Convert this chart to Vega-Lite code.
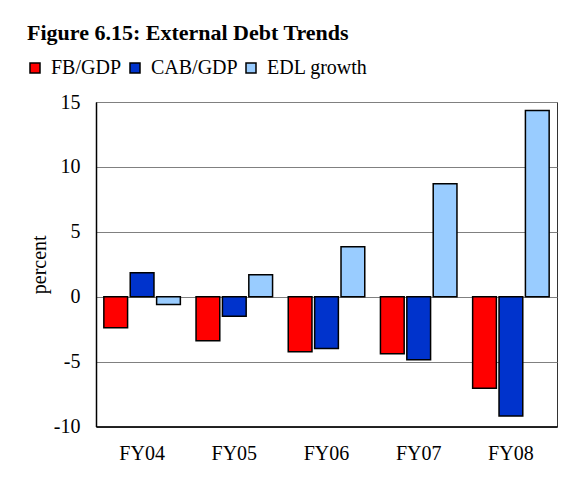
{
  "$schema": "https://vega.github.io/schema/vega-lite/v6.json",
  "autosize": "none",
  "width": 461,
  "height": 324.5,
  "padding": {"left": 96, "top": 102, "right": 22, "bottom": 50.5},
  "background": "white",
  "title": {
    "text": "Figure 6.15: External Debt Trends",
    "anchor": "start",
    "frame": "group",
    "dx": -69,
    "offset": 13,
    "font": "Liberation Serif",
    "fontSize": 22,
    "fontWeight": "bold",
    "color": "black"
  },
  "data": {
    "values": [
      {"year": "FY04", "series": "FB/GDP", "value": -2.4},
      {"year": "FY04", "series": "CAB/GDP", "value": 1.85},
      {"year": "FY04", "series": "EDL growth", "value": -0.6},
      {"year": "FY05", "series": "FB/GDP", "value": -3.4},
      {"year": "FY05", "series": "CAB/GDP", "value": -1.5},
      {"year": "FY05", "series": "EDL growth", "value": 1.7},
      {"year": "FY06", "series": "FB/GDP", "value": -4.25},
      {"year": "FY06", "series": "CAB/GDP", "value": -4.0},
      {"year": "FY06", "series": "EDL growth", "value": 3.85},
      {"year": "FY07", "series": "FB/GDP", "value": -4.4},
      {"year": "FY07", "series": "CAB/GDP", "value": -4.85},
      {"year": "FY07", "series": "EDL growth", "value": 8.7},
      {"year": "FY08", "series": "FB/GDP", "value": -7.05},
      {"year": "FY08", "series": "CAB/GDP", "value": -9.2},
      {"year": "FY08", "series": "EDL growth", "value": 14.35}
    ]
  },
  "mark": {"type": "bar", "stroke": "black", "strokeWidth": 1.5},
  "encoding": {
    "x": {
      "field": "year",
      "type": "nominal",
      "title": null,
      "scale": {"paddingInner": 0.17, "paddingOuter": 0.085},
      "axis": {
        "labelAngle": 0,
        "ticks": false,
        "labelPadding": 17,
        "domainColor": "black",
        "domainWidth": 1.5,
        "labelFont": "Liberation Serif",
        "labelFontSize": 20,
        "labelColor": "black"
      }
    },
    "xOffset": {
      "field": "series",
      "type": "nominal",
      "sort": ["FB/GDP", "CAB/GDP", "EDL growth"],
      "scale": {"paddingInner": 0.1}
    },
    "y": {
      "field": "value",
      "type": "quantitative",
      "title": "percent",
      "scale": {"domain": [-10, 15], "nice": false},
      "axis": {
        "values": [-10, -5, 0, 5, 10, 15],
        "labelExpr": "toString(datum.value)",
        "ticks": false,
        "labelPadding": 16,
        "grid": true,
        "gridColor": "#808080",
        "gridWidth": 1,
        "domainColor": "black",
        "domainWidth": 1.5,
        "labelFont": "Liberation Serif",
        "labelFontSize": 20,
        "labelColor": "black",
        "titleFont": "Liberation Serif",
        "titleFontSize": 20,
        "titleFontWeight": "normal",
        "titleColor": "black",
        "titlePadding": 4
      }
    },
    "color": {
      "field": "series",
      "type": "nominal",
      "sort": ["FB/GDP", "CAB/GDP", "EDL growth"],
      "scale": {"domain": ["FB/GDP", "CAB/GDP", "EDL growth"], "range": ["#FF0000", "#0033CC", "#99CCFF"]},
      "legend": {
        "title": null,
        "orient": "none",
        "legendX": -71,
        "legendY": -44,
        "direction": "horizontal",
        "symbolType": "square",
        "symbolSize": 100,
        "symbolStrokeColor": "black",
        "symbolStrokeWidth": 1.5,
        "symbolOpacity": 1,
        "labelFont": "Liberation Serif",
        "labelFontSize": 20,
        "labelColor": "black",
        "labelOffset": 6,
        "columnPadding": 3
      }
    }
  },
  "config": {
    "view": {"stroke": "#333333", "strokeWidth": 1},
    "legend": {"labelFont": "Liberation Serif", "labelFontSize": 20},
    "font": "Liberation Serif"
  }
}
